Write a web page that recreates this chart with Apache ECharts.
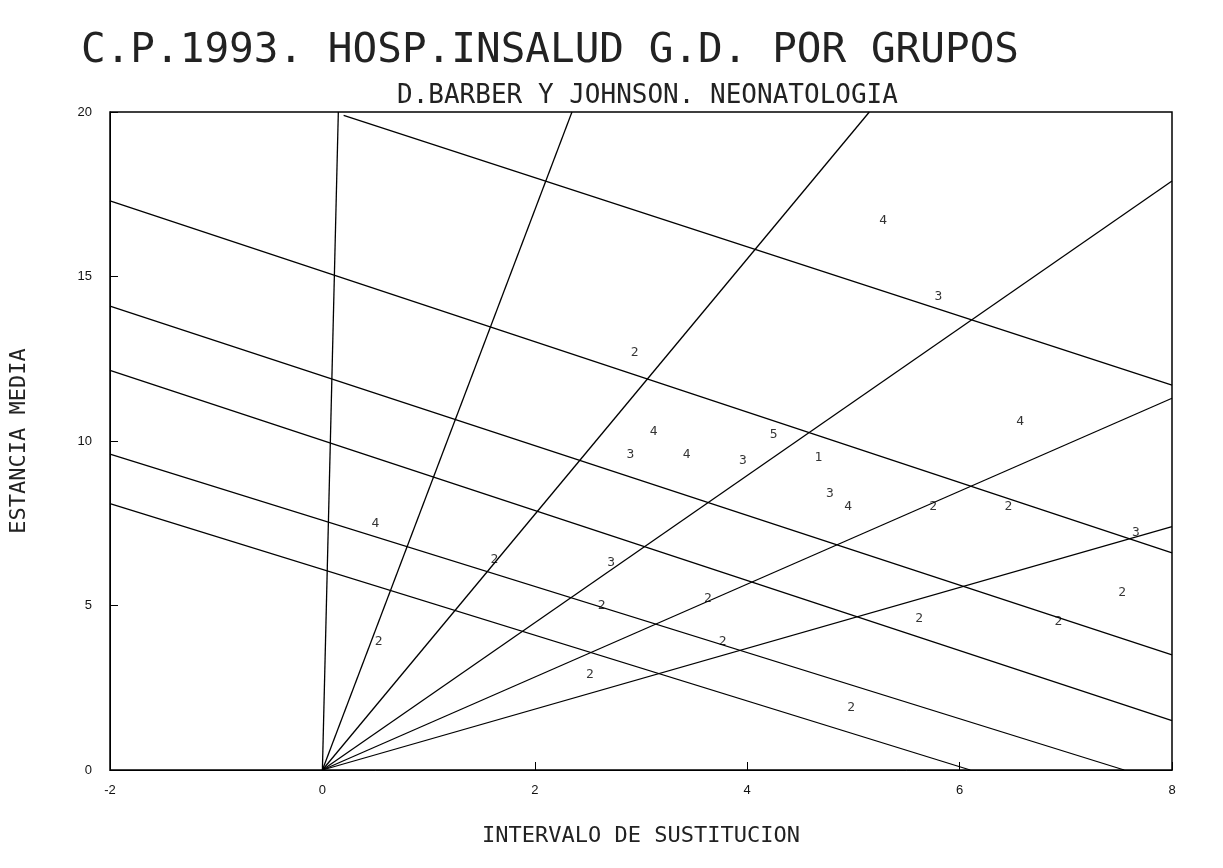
<!DOCTYPE html>
<html>
<head>
<meta charset="UTF-8">
<script src="https://cdn.jsdelivr.net/npm/echarts@6/dist/echarts.min.js"></script>
</head>
<body style="margin:0;background:#fff;">
<div id="chart" style="width:1223px;height:868px;"></div>
<script>
// rays from the origin (end points)
var rayEnds = [[0.15, 20], [2.35, 20], [5.15, 20], [8, 17.9], [8, 11.3], [8, 7.4]];
// descending lines (start, end)
var downLines = [
  [[0.2, 19.9], [8, 11.7]],
  [[-2, 17.3], [8, 6.6]],
  [[-2, 14.1], [8, 3.5]],
  [[-2, 12.15], [8, 1.5]],
  [[-2, 9.6], [7.55, 0]],
  [[-2, 8.1], [6.1, 0]]
];
// group labels: x, y, label
var groupPoints = [
  [5.28, 16.7, '4'], [5.80, 14.4, '3'], [2.94, 12.7, '2'], [6.57, 10.6, '4'],
  [3.12, 10.3, '4'], [4.25, 10.2, '5'], [2.90, 9.6, '3'], [3.43, 9.6, '4'],
  [3.96, 9.4, '3'], [4.67, 9.5, '1'], [4.78, 8.4, '3'], [4.95, 8.0, '4'],
  [5.75, 8.0, '2'], [6.46, 8.0, '2'], [7.66, 7.2, '3'], [0.50, 7.5, '4'],
  [1.62, 6.4, '2'], [2.72, 6.3, '3'], [3.63, 5.2, '2'], [2.63, 5.0, '2'],
  [7.53, 5.4, '2'], [5.62, 4.6, '2'], [6.93, 4.5, '2'], [3.77, 3.9, '2'],
  [0.53, 3.9, '2'], [2.52, 2.9, '2'], [4.98, 1.9, '2']
];
var xTicks = [-2, 0, 2, 4, 6, 8];
var yTicks = [0, 5, 10, 15, 20];

var series = [];
rayEnds.forEach(function (e) {
  series.push({ type: 'line', data: [[0, 0], e], symbol: 'none', silent: true,
    lineStyle: { color: '#000', width: 1.3 } });
});
downLines.forEach(function (l) {
  series.push({ type: 'line', data: l, symbol: 'none', silent: true,
    lineStyle: { color: '#000', width: 1.3 } });
});
series.push({
  type: 'scatter', symbolSize: 0,
  data: groupPoints.map(function (p) { return { value: [p[0], p[1]], name: p[2] }; }),
  label: { show: true, position: 'inside', formatter: '{b}', color: '#000',
    fontSize: 13, fontFamily: 'DejaVu Sans Mono' }
});

var chart = echarts.init(document.getElementById('chart'));
chart.setOption({
  animation: false,
  title: [
    { text: 'C.P.1993. HOSP.INSALUD G.D. POR GRUPOS', left: 76, top: 26,
      textStyle: { fontSize: 41, fontWeight: 'normal', fontFamily: 'DejaVu Sans Mono', color: '#222' } },
    { text: 'D.BARBER Y JOHNSON. NEONATOLOGIA', left: 392, top: 78,
      textStyle: { fontSize: 26, fontWeight: 'normal', fontFamily: 'DejaVu Sans Mono', color: '#222' } }
  ],
  grid: { left: 107, right: 51, top: 112, bottom: 98, show: true, borderColor: '#000', borderWidth: 1.5 },
  xAxis: {
    type: 'value', min: -2, max: 8, interval: 2,
    name: 'INTERVALO DE SUSTITUCION', nameLocation: 'middle', nameGap: 55,
    nameTextStyle: { fontSize: 22, fontFamily: 'DejaVu Sans Mono', color: '#222' },
    axisLine: { onZero: false, lineStyle: { color: '#000' } },
    axisTick: { inside: true, length: 8, lineStyle: { color: '#000' } },
    axisLabel: { color: '#111', fontSize: 13, margin: 14,
      formatter: function (v) { return xTicks.indexOf(v) >= 0 ? String(v) : ''; } },
    splitLine: { show: false }
  },
  yAxis: {
    type: 'value', min: 0, max: 20, interval: 5,
    name: 'ESTANCIA MEDIA', nameLocation: 'middle', nameGap: 80,
    nameTextStyle: { fontSize: 22, fontFamily: 'DejaVu Sans Mono', color: '#222' },
    axisLine: { onZero: false, lineStyle: { color: '#000' } },
    axisTick: { inside: true, length: 8, lineStyle: { color: '#000' } },
    axisLabel: { color: '#111', fontSize: 13, margin: 18,
      formatter: function (v) { return yTicks.indexOf(v) >= 0 ? String(v) : ''; } },
    splitLine: { show: false }
  },
  series: series
});
</script>
</body>
</html>
